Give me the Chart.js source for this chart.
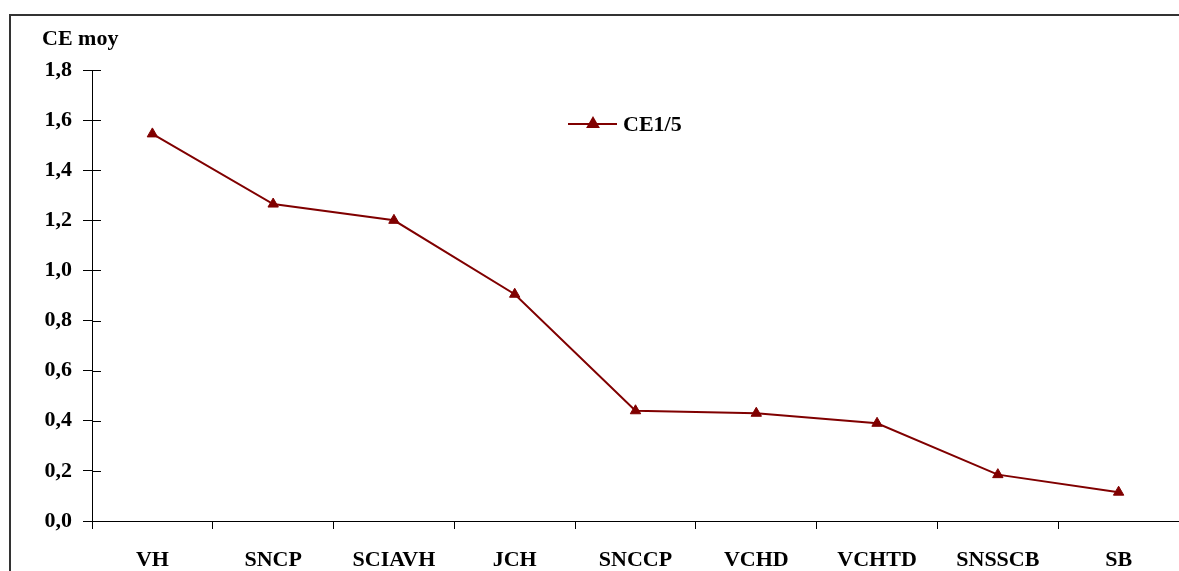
<html>
<head>
  <script src="https://cdn.jsdelivr.net/npm/chart.js@4.4.1/dist/chart.umd.min.js"></script>
  <style>
    html, body { width: 100%; height: 100%; margin: 0; overflow: hidden; background: #fff; }
    .frame { position: absolute; left: 9px; top: 14px; width: 1400px; height: 800px;
      border: 2px solid #333; }
    .graph { position: absolute; left: 0; top: 0; width: 1186px; height: 571px; }
  </style>
</head>
<body>
  <div class="frame"></div>
  <div class="graph"><canvas id="graph-canvas"></canvas></div>
  <script>
    const categories = ['VH', 'SNCP', 'SCIAVH', 'JCH', 'SNCCP', 'VCHD', 'VCHTD', 'SNSSCB', 'SB'];
    const ce15 = [1.545, 1.265, 1.20, 0.905, 0.44, 0.43, 0.39, 0.185, 0.115];
    const seriesName = 'CE1/5';
    const yTitle = 'CE moy';
    const yMin = 0, yMax = 1.8, yStep = 0.2;

    const red = '#800000';
    const fontFam = '"Liberation Serif", "Times New Roman", serif';

    // ticks crossing the y axis, title and legend inside the plot
    const extras = {
      id: 'extras',
      afterDraw(chart) {
        const c = chart.ctx;
        const y = chart.scales.y;
        c.save();
        c.strokeStyle = '#000';
        c.lineWidth = 1;
        y.ticks.forEach(t => {
          const py = Math.round(y.getPixelForValue(t.value)) + 0.5;
          c.beginPath();
          c.moveTo(y.right, py);
          c.lineTo(y.right + 9, py);
          c.stroke();
        });
        c.fillStyle = '#000';
        c.font = 'bold 22px ' + fontFam;
        c.textBaseline = 'alphabetic';
        c.fillText(yTitle, 42, 45);

        // legend
        const ly = 124;
        c.strokeStyle = red;
        c.lineWidth = 2;
        c.beginPath();
        c.moveTo(568, ly);
        c.lineTo(617, ly);
        c.stroke();
        c.fillStyle = red;
        Chart.helpers.drawPoint(c, {pointStyle: 'triangle', radius: 6, borderWidth: 1}, 593, ly);
        c.fillStyle = '#000';
        c.fillText(seriesName, 623, 131);
        c.restore();
      }
    };

    new Chart(document.getElementById('graph-canvas'), {
      type: 'line',
      data: {
        labels: categories,
        datasets: [{
          label: seriesName,
          data: ce15,
          borderColor: red,
          backgroundColor: red,
          borderWidth: 2,
          pointStyle: 'triangle',
          pointRadius: 6,
          pointBorderWidth: 1,
          tension: 0,
        }]
      },
      options: {
        responsive: true,
        maintainAspectRatio: false,
        animation: false,
        layout: { padding: { top: 70, left: 0, right: 0, bottom: 0 } },
        plugins: { legend: { display: false }, tooltip: { enabled: false } },
        scales: {
          x: {
            offset: true,
            grid: { offset: true, drawOnChartArea: false, drawTicks: true, tickLength: 8, color: '#000' },
            border: { color: '#000', width: 1 },
            ticks: { color: '#000', padding: 18, maxRotation: 0, autoSkip: false,
              font: { family: fontFam, size: 22, weight: 'bold' } },
            afterFit(s) { s.height = 50; }
          },
          y: {
            min: yMin, max: yMax,
            grid: { drawOnChartArea: false, drawTicks: true, tickLength: 9, color: '#000' },
            border: { color: '#000', width: 1 },
            ticks: { stepSize: yStep, color: '#000', padding: 11,
              font: { family: fontFam, size: 22, weight: 'bold' },
              callback: v => v.toFixed(1).replace('.', ',') },
            afterFit(s) { s.width = 92; }
          }
        }
      },
      plugins: [extras]
    });
  </script>
</body>
</html>
